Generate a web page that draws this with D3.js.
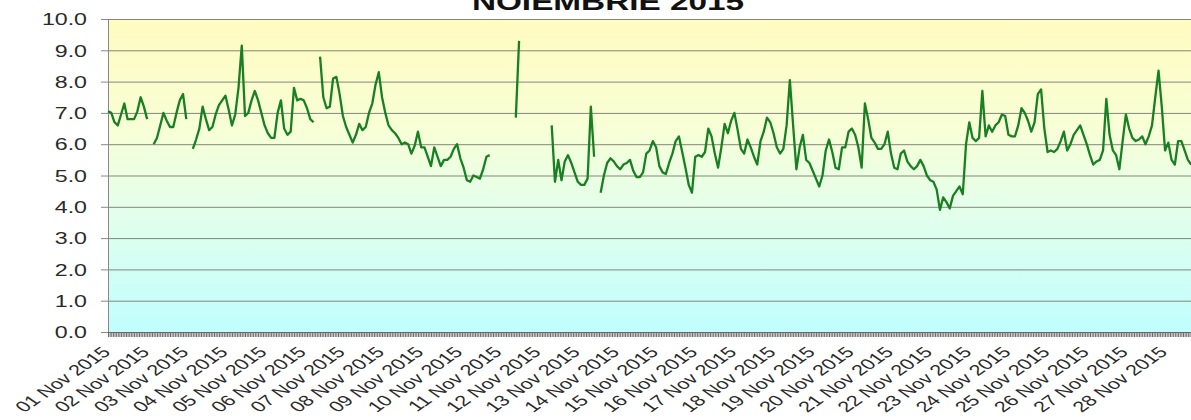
<!DOCTYPE html>
<html>
<head>
<meta charset="utf-8">
<script src="https://cdn.jsdelivr.net/npm/d3@7"></script>
<style>
  html, body { margin: 0; padding: 0; background: #fff; }
  svg { display: block; }
  text { font-family: "Liberation Sans", Arial, sans-serif; }
</style>
</head>
<body>
<svg id="chart" width="1191" height="420"></svg>
<script>
// ---- data ----
const title = "NOIEMBRIE 2015";
const startDate = "2015-11-01T00:00:00Z";
const stepHours = 2;
// 2-hourly values, one row per day (01 Nov ... 28 Nov), null = missing
const day01 = [7.05, 7.0, 6.7, 6.6, 6.95, 7.3, 6.8, 6.8, 6.8, 7.05, 7.5, 7.2];
const day02 = [6.8, null, 6.0, 6.2, 6.6, 7.0, 6.75, 6.55, 6.55, 7.0, 7.4, 7.6];
const day03 = [6.8, null, 5.85, 6.15, 6.5, 7.2, 6.8, 6.45, 6.55, 6.95, 7.25, 7.4];
const day04 = [7.55, 7.1, 6.6, 6.95, 7.8, 9.15, 6.9, 7.0, 7.4, 7.7, 7.4, 7.0];
const day05 = [6.6, 6.35, 6.2, 6.2, 7.0, 7.4, 6.5, 6.3, 6.4, 7.8, 7.4, 7.45];
const day06 = [7.4, 7.15, 6.8, 6.7, null, 8.8, 7.5, 7.15, 7.2, 8.1, 8.15, 7.6];
const day07 = [6.9, 6.55, 6.3, 6.05, 6.3, 6.65, 6.45, 6.55, 7.0, 7.3, 7.9, 8.3];
const day08 = [7.5, 7.0, 6.6, 6.45, 6.35, 6.2, 6.0, 6.05, 6.0, 5.7, 5.95, 6.4];
const day09 = [5.9, 5.9, 5.6, 5.3, 5.9, 5.6, 5.3, 5.5, 5.5, 5.6, 5.85, 6.0];
const day10 = [5.55, 5.25, 4.85, 4.8, 5.0, 4.95, 4.9, 5.2, 5.6, 5.65, null, null];
const day11 = [null, null, null, null, null, 6.85, 9.3, null, null, null, null, null];
const day12 = [null, null, null, null, 6.6, 4.8, 5.5, 4.85, 5.45, 5.65, 5.4, 5.1];
const day13 = [4.8, 4.7, 4.7, 4.9, 7.2, 5.6, null, 4.45, 5.0, 5.4, 5.55, 5.45];
const day14 = [5.3, 5.2, 5.35, 5.4, 5.5, 5.15, 4.95, 4.95, 5.1, 5.7, 5.8, 6.1];
const day15 = [5.9, 5.3, 5.1, 5.05, 5.4, 5.7, 6.1, 6.25, 5.75, 5.25, 4.7, 4.45];
const day16 = [5.6, 5.65, 5.6, 5.75, 6.5, 6.25, 5.7, 5.25, 5.9, 6.65, 6.35, 6.75];
const day17 = [7.0, 6.45, 5.85, 5.7, 6.15, 5.9, 5.6, 5.35, 6.1, 6.4, 6.85, 6.7];
const day18 = [6.35, 5.9, 5.7, 5.85, 6.6, 8.05, 6.6, 5.2, 5.9, 6.3, 5.5, 5.4];
const day19 = [5.15, 4.9, 4.65, 5.0, 5.8, 6.15, 5.75, 5.25, 5.2, 5.9, 5.9, 6.4];
const day20 = [6.5, 6.3, 5.9, 5.25, 7.3, 6.8, 6.2, 6.05, 5.85, 5.85, 6.0, 6.4];
const day21 = [5.7, 5.25, 5.2, 5.7, 5.8, 5.45, 5.3, 5.2, 5.3, 5.5, 5.3, 5.0];
const day22 = [4.85, 4.8, 4.55, 3.9, 4.3, 4.15, 3.95, 4.35, 4.5, 4.65, 4.4, 6.0];
const day23 = [6.7, 6.2, 6.1, 6.2, 7.7, 6.25, 6.6, 6.4, 6.6, 6.7, 6.95, 6.9];
const day24 = [6.3, 6.25, 6.25, 6.6, 7.15, 7.0, 6.75, 6.4, 6.7, 7.6, 7.75, 6.5];
const day25 = [5.75, 5.8, 5.75, 5.85, 6.1, 6.4, 5.8, 6.0, 6.3, 6.45, 6.6, 6.3];
const day26 = [6.0, 5.65, 5.35, 5.45, 5.5, 5.8, 7.45, 6.3, 5.8, 5.65, 5.2, 6.1];
const day27 = [6.95, 6.5, 6.2, 6.1, 6.15, 6.25, 6.0, 6.25, 6.6, 7.5, 8.35, 7.2];
const day28 = [5.8, 6.05, 5.5, 5.35, 6.1, 6.1, 5.8, 5.5, 5.35];
const dayRows = [day01, day02, day03, day04, day05, day06, day07, day08, day09, day10,
  day11, day12, day13, day14, day15, day16, day17, day18, day19, day20,
  day21, day22, day23, day24, day25, day26, day27, day28];
const tickLabels = ["01 Nov 2015","02 Nov 2015","03 Nov 2015","04 Nov 2015","05 Nov 2015",
  "06 Nov 2015","07 Nov 2015","08 Nov 2015","09 Nov 2015","10 Nov 2015","11 Nov 2015",
  "12 Nov 2015","13 Nov 2015","14 Nov 2015","15 Nov 2015","16 Nov 2015","17 Nov 2015",
  "18 Nov 2015","19 Nov 2015","20 Nov 2015","21 Nov 2015","22 Nov 2015","23 Nov 2015",
  "24 Nov 2015","25 Nov 2015","26 Nov 2015","27 Nov 2015","28 Nov 2015"];
const yTicks = [0, 1, 2, 3, 4, 5, 6, 7, 8, 9, 10];

// ---- layout ----
const W = 1191, H = 420;
const plotLeft = 108, plotTop = 19, plotBottom = 332;
const dayPx = 39.15;
const SX = 1.45; // horizontal stretch of the picture

const t0 = new Date(startDate);
const hourMs = 3600 * 1000;
const points = [];
dayRows.forEach((row, di) => {
  row.forEach((v, si) => {
    points.push({ t: new Date(t0.getTime() + (di * 24 + si * stepHours) * hourMs), v: v });
  });
});

const x = d3.scaleUtc()
  .domain([t0, new Date(t0.getTime() + 30 * 24 * hourMs)])
  .range([plotLeft, plotLeft + 30 * dayPx]);
const y = d3.scaleLinear().domain([0, 10]).range([plotBottom, plotTop]);

const svg = d3.select("#chart");
const defs = svg.append("defs");
const grad = defs.append("linearGradient").attr("id", "bg")
  .attr("x1", 0).attr("y1", 0).attr("x2", 0).attr("y2", 1);
grad.append("stop").attr("offset", "0%").attr("stop-color", "#FFFBC0");
grad.append("stop").attr("offset", "35%").attr("stop-color", "#F7FFD6");
grad.append("stop").attr("offset", "60%").attr("stop-color", "#E4FFEA");
grad.append("stop").attr("offset", "100%").attr("stop-color", "#C0FEFE");

svg.append("rect").attr("x", plotLeft).attr("y", plotTop)
  .attr("width", W - plotLeft).attr("height", plotBottom - plotTop)
  .attr("fill", "url(#bg)");

// gridlines
svg.append("g").selectAll("line").data(yTicks.filter(d => d > 0)).join("line")
  .attr("x1", plotLeft).attr("x2", W)
  .attr("y1", d => y(d) + 0.5).attr("y2", d => y(d) + 0.5)
  .attr("stroke", "#858579").attr("stroke-width", 1);

// y axis
const gy = svg.append("g").attr("transform", `translate(${plotLeft},0)`)
  .call(d3.axisLeft(y).tickValues(yTicks).tickFormat(d3.format(".1f")).tickSize(7).tickSizeOuter(0));
gy.select(".domain").attr("stroke", "#888");
gy.selectAll(".tick line").attr("stroke", "#888");
gy.selectAll(".tick text")
  .attr("x", 0).attr("dy", "0.36em")
  .attr("transform", `translate(-21,0) scale(${SX},1)`)
  .attr("font-size", 16).attr("fill", "#2a2a2a")
  .attr("font-family", "'Liberation Sans', Arial, sans-serif");

// x axis minor (hourly) ticks
const gxm = svg.append("g").attr("transform", `translate(0,${plotBottom})`)
  .call(d3.axisBottom(x).ticks(d3.utcHour.every(1)).tickFormat("").tickSize(5).tickSizeOuter(0));
gxm.select(".domain").attr("stroke", "#666");
gxm.selectAll(".tick line").attr("stroke", "#6a6a6a");

// x axis labels
const tickDates = tickLabels.map((_, i) => new Date(t0.getTime() + i * 24 * hourMs));
const gx = svg.append("g").attr("transform", `translate(0,${plotBottom})`)
  .call(d3.axisBottom(x).tickValues(tickDates).tickFormat((d, i) => tickLabels[i]).tickSize(0));
gx.select(".domain").remove();
gx.selectAll(".tick text")
  .attr("x", 0).attr("y", 0).attr("dy", 0)
  .attr("text-anchor", "end")
  .attr("transform", `translate(3,21) scale(${SX},1) rotate(-45)`)
  .attr("font-size", 15).attr("fill", "#2a2a2a")
  .attr("font-family", "'Liberation Sans', Arial, sans-serif");

// line
const line = d3.line()
  .defined(d => d.v !== null)
  .x(d => x(d.t)).y(d => y(d.v));
svg.append("path").datum(points)
  .attr("d", line)
  .attr("fill", "none")
  .attr("stroke", "#197f22")
  .attr("stroke-width", 2.3)
  .attr("stroke-linejoin", "round");

// title
svg.append("text")
  .attr("transform", `translate(608,10) scale(${SX},1)`)
  .attr("text-anchor", "middle")
  .attr("font-size", 23).attr("font-weight", "bold").attr("fill", "#111")
  .text(title);
</script>
</body>
</html>
